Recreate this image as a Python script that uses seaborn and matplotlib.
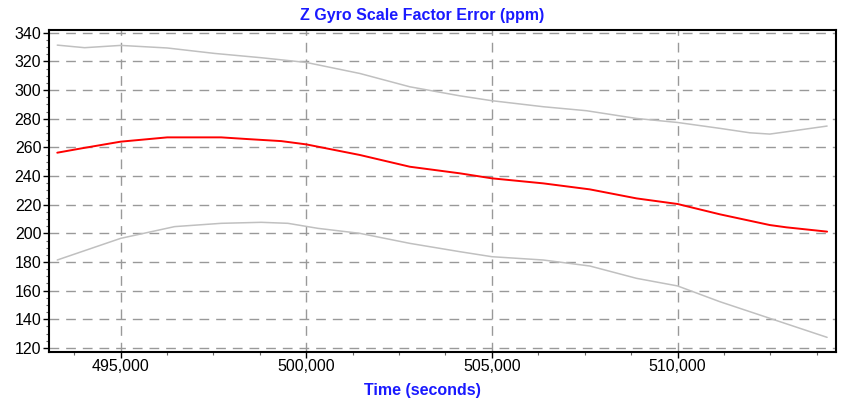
import matplotlib
matplotlib.use('Agg')
import matplotlib.pyplot as plt
import matplotlib.ticker as mticker
import seaborn as sns
import pandas as pd

# series (time in seconds, error in ppm)
time_upper = [493293, 494030, 495000, 496255, 497531, 498786, 500000, 501444, 502791, 504137,
              505000, 506381, 507549, 508896, 510000, 511139, 511947, 512485, 512934, 514029]
upper_bound = [331.4, 329.6, 331.2, 329.4, 325.6, 322.6, 319.3, 311.6, 302.3, 296.0,
               292.6, 288.4, 285.6, 280.2, 277.4, 273.3, 270.2, 269.3, 270.9, 274.9]

time_est = [493293, 493939, 495000, 496255, 497709, 498428, 499325, 500000, 501444, 502791,
            504137, 505000, 506381, 507638, 508896, 510000, 511139, 512485, 512934, 514029]
estimate = [256.3, 259.3, 264.0, 267.0, 267.0, 265.8, 264.4, 262.1, 254.7, 246.5,
            241.9, 238.4, 234.9, 230.7, 224.4, 220.5, 213.3, 205.8, 204.2, 201.2]

time_lower = [493293, 495000, 496454, 497709, 498786, 499506, 500313, 501444, 502791, 504137,
              505000, 506381, 507638, 508896, 510000, 511139, 512485, 514029]
lower_bound = [181.4, 196.5, 204.7, 207.0, 207.7, 207.0, 203.5, 200.0, 193.0, 187.2,
               183.7, 181.4, 177.2, 168.6, 163.3, 152.3, 140.7, 127.4]

y_ticks = [120, 140, 160, 180, 200, 220, 240, 260, 280, 300, 320, 340]
x_ticks = [495000, 500000, 505000, 510000]

sns.set_style('white')
plt.rcParams['font.family'] = ['Liberation Sans', 'DejaVu Sans']

fig = plt.figure(figsize=(8.44, 4.01), dpi=100)
ax = fig.add_axes([0.058, 0.123, 0.932, 0.802])

upper_df = pd.DataFrame({'t': time_upper, 'v': upper_bound})
est_df = pd.DataFrame({'t': time_est, 'v': estimate})
lower_df = pd.DataFrame({'t': time_lower, 'v': lower_bound})

sns.lineplot(data=upper_df, x='t', y='v', ax=ax, color='#c0c0c0', linewidth=1.1)
sns.lineplot(data=lower_df, x='t', y='v', ax=ax, color='#c0c0c0', linewidth=1.1)
sns.lineplot(data=est_df, x='t', y='v', ax=ax, color='#ff0000', linewidth=1.4)

ax.set_xlim(493069, 514257)
ax.set_ylim(117.4, 341.9)
ax.set_xticks(x_ticks)
ax.set_yticks(y_ticks)
ax.xaxis.set_major_formatter(mticker.StrMethodFormatter('{x:,.0f}'))
ax.xaxis.set_minor_locator(mticker.MultipleLocator(1250))
ax.yaxis.set_minor_locator(mticker.MultipleLocator(5))

ax.grid(True, which='major', color='#999999', linestyle=(0, (7, 5)), linewidth=1.0)
ax.set_axisbelow(True)
ax.tick_params(axis='both', which='major', direction='out', length=4, width=1,
               color='black', labelsize=11.5, labelcolor='black', pad=1.5, left=True, bottom=True)
ax.tick_params(axis='both', which='minor', direction='out', length=2, width=0.8,
               color='#666666', left=True, bottom=True)
for spine in ax.spines.values():
    spine.set_color('black')
    spine.set_linewidth(1.5)

ax.set_xlabel('')
ax.set_ylabel('')

fig.text(0.5, 0.962, 'Z Gyro Scale Factor Error (ppm)', ha='center', va='center',
         color='#1a1aff', fontsize=11.5, fontweight='bold')
fig.text(0.5, 0.027, 'Time (seconds)', ha='center', va='center',
         color='#1a1aff', fontsize=11.5, fontweight='bold')

fig.savefig('out.png', dpi=100)
